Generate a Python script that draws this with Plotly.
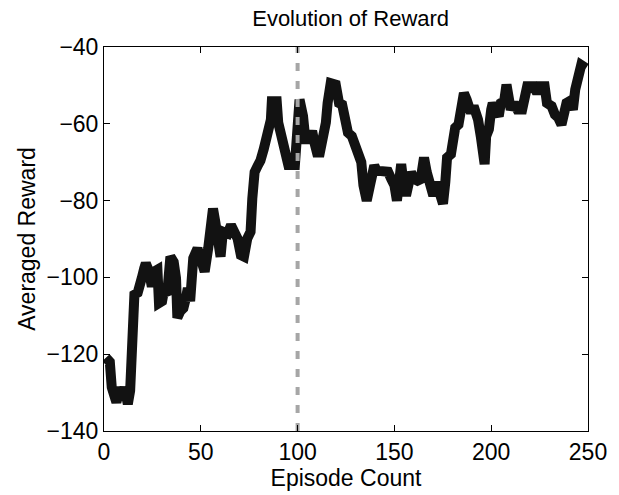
import plotly.graph_objects as go

# Episode positions and averaged reward values
episodes = [1, 3, 4, 6.4, 8.5, 9.5, 10.6, 12.3, 13.5, 14, 14.9, 15.7, 17.4, 18.3, 19.6, 20.8,
            21.6, 23.3, 24.7, 25.9, 27.6, 28.4, 30, 30.9, 32.6, 34.3, 36, 37.2, 37.9, 39.4,
            41, 42.3, 43.3, 44.5, 46.1, 48.3, 50.4, 52, 53.8, 55, 56.3, 57.5, 58.8, 60.2,
            61.4, 63.9, 65.6, 67.3, 69, 70.7, 72.3, 74, 75.7, 76.6, 77.8, 79.4, 80.8, 82.5,
            83.3, 85, 86.2, 86.7, 89.2, 90, 91.8, 93.5, 95.2, 98.6, 99.7, 101, 102.8, 104,
            106, 107.5, 108.7, 110, 111.5, 113, 114.6, 115.5, 117.1, 119.7, 121.4, 123,
            124.7, 126, 128, 129.8, 130.7, 132.9, 134, 135.7, 137.4, 139.6, 140.8, 144.2,
            146.7, 148.4, 150, 151.3, 152.6, 153.5, 154.8, 156, 157.2, 158.6, 160.2, 161.9,
            163.6, 165.3, 166.7, 168.4, 170.1, 171.7, 173.4, 175.1, 176.3, 177.2, 179.2,
            180.5, 181.4, 183.1, 184.2, 185.9, 187.3, 189, 191.5, 193.2, 194.6, 195.7, 196.6,
            197.4, 198.8, 200, 200.8, 202.5, 203.9, 205, 206.7, 207.9, 209.2, 210.1, 211.8,
            213.5, 216, 217.7, 218.6, 221.9, 223.7, 225.3, 227.6, 228.8, 231.2, 232.9, 234.6,
            236.3, 237.7, 238.9, 240.6, 242.2, 243.4, 244.8, 246.5, 249]
reward = [-120.9, -122, -128.6, -132.5, -128.6, -131, -128.6, -133, -129.5, -116.6, -112,
          -104.5, -104, -101, -100, -97.6, -96.3, -98.5, -102.4, -98.5, -98, -106.7, -106.2,
          -103.7, -104.5, -94.6, -96, -100.2, -110.5, -108.8, -108, -105.4, -102.8, -106.2,
          -95, -92.5, -95.5, -98.5, -92.5, -88.1, -82.1, -85.6, -90.7, -94.6, -88.1, -88.6,
          -86.4, -88.1, -89.9, -94.2, -94.6, -89.9, -88.1, -79.5, -72.6, -70.9, -69.6, -66.6,
          -64.9, -64, -58.9, -54.1, -54.1, -59.7, -64, -69.2, -70.7, -70.7, -64, -53.7, -58,
          -64, -64, -61.9, -64.9, -67.5, -67.5, -64, -59.7, -54.6, -49.4, -49.8, -54.6, -55,
          -58, -62.3, -63.2, -65.8, -68.8, -70, -76, -80, -76, -70.9, -72.2, -72.2, -72.5,
          -74.4, -76, -80, -74.4, -70.5, -76, -78.7, -76, -72.6, -74.4, -74.8, -74.4, -68.8,
          -72.6, -77, -78.7, -75.2, -78.7, -80.8, -75.2, -68.8, -67.9, -64, -61, -60.2, -55.4,
          -52, -53.7, -56.3, -56.3, -58.9, -63.2, -68.8, -70.5, -63.2, -61.4, -56.3, -54.6,
          -56.7, -58, -54.6, -54.1, -49.8, -52.8, -56.3, -54.6, -56.3, -56.3, -53.3, -50.2,
          -50.2, -52, -50.2, -50.2, -54.6, -55.4, -57.6, -58.4, -60.2, -57.6, -54.6, -54.1,
          -56.3, -51.1, -46.8, -44.7, -45.5]

marker_x = [100, 100]
marker_y = [-140, -40]

x_ticks = [0, 50, 100, 150, 200, 250]
y_ticks = [-140, -120, -100, -80, -60, -40]
y_tick_text = ["\u2212140", "\u2212120", "\u2212100", "\u221280", "\u221260", "\u221240"]

FONT = "Liberation Sans, Arial, Helvetica, sans-serif"

fig = go.Figure()
fig.add_trace(go.Scatter(x=episodes, y=reward, mode="lines",
                         line=dict(color="#121212", width=10, shape="linear"),
                         showlegend=False, hoverinfo="skip"))
fig.add_trace(go.Scatter(x=marker_x, y=marker_y, mode="lines",
                         line=dict(color="#a6a6a6", width=4, dash="8px,10px"),
                         showlegend=False, hoverinfo="skip"))

axis_common = dict(showline=True, linecolor="black", linewidth=1, mirror="ticks",
                   ticks="inside", ticklen=6, tickwidth=1, tickcolor="black",
                   showgrid=False, zeroline=False,
                   tickfont=dict(family=FONT, size=23, color="black"))

fig.update_layout(
    width=619, height=495,
    margin=dict(l=104, r=22, t=47, b=61),
    plot_bgcolor="white", paper_bgcolor="white",
    title=dict(text="Evolution of Reward", x=0.5665, xanchor="center",
               y=1 - 18 / 495, yanchor="middle",
               font=dict(family=FONT, size=22, color="black")),
    xaxis=dict(range=[0, 250], tickvals=x_ticks,
               title=dict(text="Episode Count", standoff=2,
                          font=dict(family=FONT, size=23, color="black")),
               **axis_common),
    yaxis=dict(range=[-140, -40], tickvals=y_ticks, ticktext=y_tick_text,
               title=dict(text="Averaged Reward", standoff=4,
                          font=dict(family=FONT, size=23, color="black")),
               **axis_common),
)

fig.write_html("out.html")
